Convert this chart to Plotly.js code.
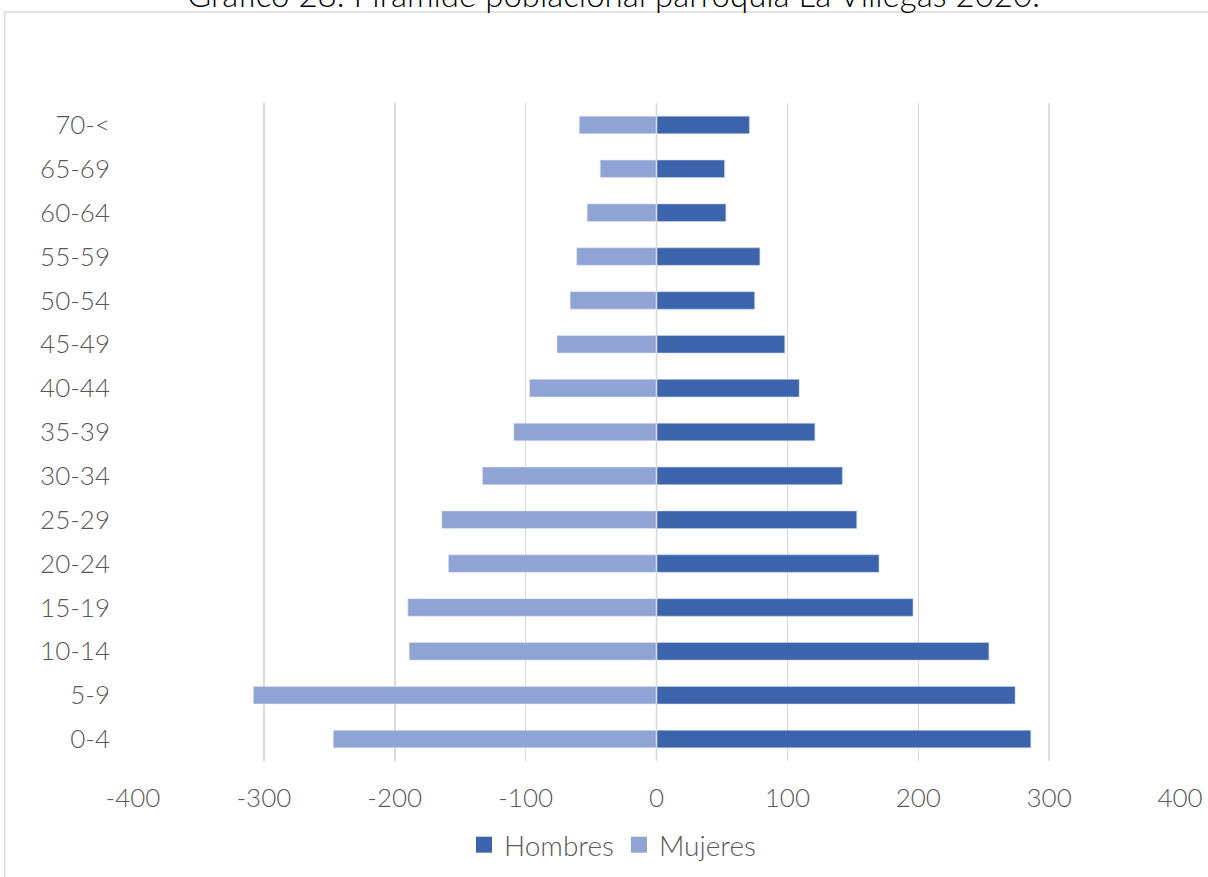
<!DOCTYPE html>
<html>
<head>
<meta charset="utf-8">
<script src="https://cdn.plot.ly/plotly-3.0.1.min.js"></script>
<style>html,body{margin:0;padding:0;background:#fff;}#chart{width:1208px;height:877px;}</style>
</head>
<body>
<div id="chart"></div>
<script>
const categories = ["0-4","5-9","10-14","15-19","20-24","25-29","30-34","35-39","40-44","45-49","50-54","55-59","60-64","65-69","70-<"];
const hombres = [286, 274, 254, 196, 170, 153, 142, 121, 109, 98, 75, 79, 53, 52, 71];
const mujeres = [247, 308, 189, 190, 159, 164, 133, 109, 97, 76, 66, 61, 53, 43, 59];
const xTickVals = [-400, -300, -200, -100, 0, 100, 200, 300, 400];
const seriesNames = ["Hombres", "Mujeres"];
const seriesColors = ["#3C64AC", "#8FA3D4"];
const titleText = "Gráfico 28. Pirámide poblacional parroquia La Villegas 2020.";

const font = "Lato, 'Open Sans', sans-serif";

const traces = [
  {
    type: "bar", orientation: "h", name: seriesNames[0], showlegend: false,
    y: categories, x: hombres,
    width: 0.4,
    marker: {color: seriesColors[0], line: {color: "#c9d4ec", width: 0.6}},
    hoverinfo: "x+y"
  },
  {
    type: "bar", orientation: "h", name: seriesNames[1], showlegend: false,
    y: categories, x: mujeres.map(v => -v),
    width: 0.4,
    marker: {color: seriesColors[1], line: {color: "#dfe5f3", width: 0.6}},
    hoverinfo: "x+y"
  },
  // legend entries (no data points)
  {type: "scatter", mode: "markers", name: seriesNames[0], x: [null], y: [null],
   marker: {symbol: "square", size: 16, color: seriesColors[0]}, hoverinfo: "skip"},
  {type: "scatter", mode: "markers", name: seriesNames[1], x: [null], y: [null],
   marker: {symbol: "square", size: 16, color: seriesColors[1]}, hoverinfo: "skip"}
];

const layout = {
  width: 1208, height: 877,
  margin: {l: 133, r: 28, t: 103, b: 116, autoexpand: false},
  paper_bgcolor: "#fff", plot_bgcolor: "#fff",
  barmode: "relative",
  showlegend: true,
  font: {family: font, color: "#595959", size: 26, weight: 300},
  xaxis: {
    range: [-400, 400],
    tickvals: xTickVals,
    ticktext: xTickVals.map(String),
    showgrid: true, gridcolor: "#d9d9d9", gridwidth: 1.5,
    zeroline: false,
    showline: false,
    ticks: "", ticklabelstandoff: 19,
    tickfont: {family: font, size: 26, color: "#595959", weight: 300},
    fixedrange: true
  },
  yaxis: {
    type: "category",
    categoryorder: "array", categoryarray: categories,
    range: [-0.5, categories.length - 0.5],
    showgrid: false, zeroline: false, showline: false,
    ticks: "", ticklabelstandoff: 22,
    tickfont: {family: font, size: 26, color: "#595959", weight: 300},
    fixedrange: true
  },
  legend: {
    orientation: "h", x: 0.458, xanchor: "center",
    yref: "container", y: 0.0365, yanchor: "middle",
    font: {family: font, size: 28, color: "#595959", weight: 300},
    itemwidth: 30,
    traceorder: "normal"
  },
  shapes: [
    {type: "line", xref: "x", yref: "paper", x0: 0, x1: 0, y0: 0, y1: 1,
     line: {color: "#d9d9d9", width: 1.6}, layer: "above"},
    {type: "rect", xref: "paper", yref: "paper",
     x0: -0.1227, x1: 1.03, y0: -0.2, y1: 1.1383,
     line: {color: "#d9d9d9", width: 1.5}, fillcolor: "rgba(0,0,0,0)", layer: "below"}
  ],
  annotations: [
    {text: titleText, xref: "paper", yref: "paper", x: 0.4585, y: 1.1318,
     xanchor: "center", yanchor: "bottom", showarrow: false,
     font: {family: font, size: 33, color: "#000000", weight: 300}}
  ]
};

Plotly.newPlot("chart", traces, layout, {displayModeBar: false, staticPlot: true});
</script>
</body>
</html>
